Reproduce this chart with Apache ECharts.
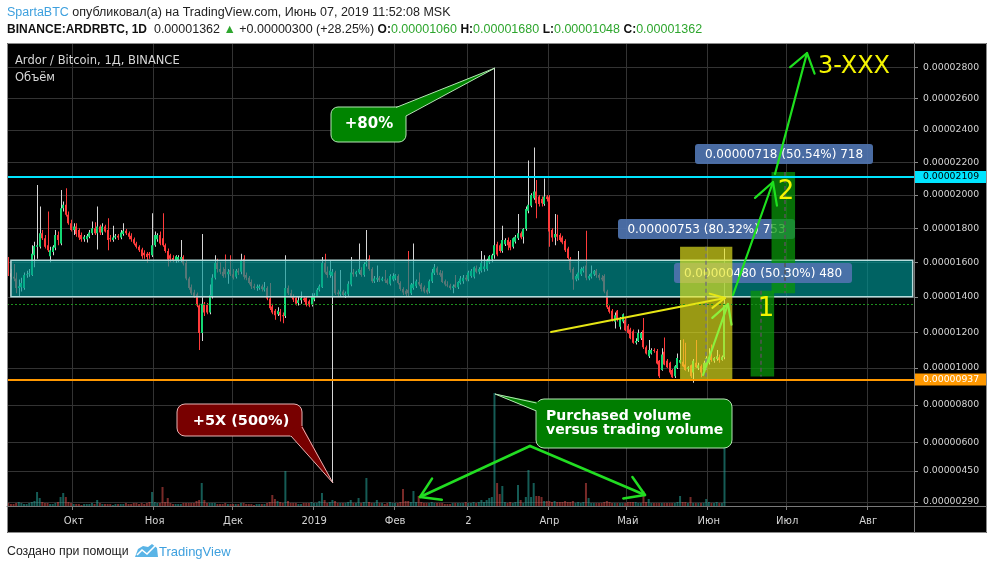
<!DOCTYPE html>
<html><head><meta charset="utf-8">
<script src="https://cdn.jsdelivr.net/npm/echarts@6.0.0/dist/echarts.min.js"></script>
<style>html,body{margin:0;padding:0;background:#fff;}#c{width:994px;height:570px;}</style>
</head><body><div id="c"></div><script>
// ---------- DATA (prices in satoshi: [open, high, low, close]) ----------
const candlesSep2018 = [
[1575,1630,1520,1535],[1535,1560,1500,1515],[1515,1590,1490,1505],[1505,1540,1420,1450],[1450,1500,1400,1460],
[1455,1510,1430,1480],[1450,1540,1440,1525],[1525,1550,1510,1530],[1530,1560,1515,1535],[1525,1700,1520,1650],
[1640,1720,1570,1695],[1690,2060,1620,1700],[1690,1930,1680,1770],[1770,1790,1730,1740],[1740,1760,1680,1690],
[1700,1900,1660,1670],[1635,1690,1600,1670],[1660,1700,1640,1690],[1685,1790,1670,1760],[1760,1780,1700,1730],
[1710,2030,1700,1920],[1920,1960,1900,1940],[1940,2040,1870,1880],[1880,1900,1820,1830],[1830,1850,1780,1790]];
const candlesOct2018 = [
[1790,1830,1760,1810],[1810,1830,1750,1765],[1790,1800,1730,1745],[1760,1775,1720,1735],[1735,1760,1720,1750],
[1735,1765,1715,1755],[1750,1790,1740,1775],[1770,1840,1760,1800],[1800,1835,1760,1770],[1770,1930,1675,1810],
[1810,1820,1760,1775],[1775,1830,1760,1810],[1810,1820,1775,1780],[1790,1860,1670,1730],[1740,1760,1720,1735],
[1730,1815,1720,1745],[1745,1765,1735,1755],[1755,1765,1730,1745],[1745,1790,1735,1775],[1765,1830,1755,1785],
[1785,1795,1760,1770],[1770,1780,1735,1750],[1755,1770,1720,1735],[1735,1745,1700,1710],[1710,1720,1680,1690],
[1690,1700,1660,1670],[1675,1685,1620,1635],[1655,1670,1620,1640],[1650,1660,1595,1630],[1650,1660,1620,1640],
[1640,1890,1630,1700]];
const candlesNov2018 = [
[1700,1780,1690,1760],[1735,1770,1720,1760],[1760,1780,1700,1710],[1740,1890,1690,1700],[1700,1710,1655,1665],
[1665,1680,1575,1615],[1640,1650,1600,1620],[1625,1640,1600,1610],[1610,1640,1595,1635],[1612,1640,1600,1630],
[1615,1730,1600,1630],[1630,1640,1580,1592],[1595,1610,1495,1505],[1505,1515,1440,1450],[1455,1470,1410,1420],
[1425,1440,1395,1405],[1415,1425,1340,1350],[1350,1360,1100,1195],[1195,1765,1150,1360],[1360,1370,1290,1310],
[1355,1365,1300,1310],[1310,1470,1300,1410],[1400,1530,1390,1510],[1510,1640,1500,1595],[1595,1620,1540,1560],
[1560,1600,1530,1545],[1545,1570,1510,1520],[1560,1645,1510,1530],[1530,1560,1475,1545],[1555,1640,1520,1530]];
const candlesDec2018 = [
[1530,1560,1500,1510],[1515,1560,1505,1550],[1550,1565,1525,1540],[1545,1650,1530,1610],[1620,1640,1500,1515],
[1525,1540,1495,1510],[1510,1520,1470,1480],[1485,1500,1445,1460],[1460,1475,1440,1450],[1450,1470,1435,1458],
[1450,1470,1440,1460],[1460,1470,1430,1445],[1440,1485,1430,1455],[1450,1460,1380,1390],[1390,1480,1325,1335],
[1345,1360,1300,1310],[1320,1330,1270,1295],[1300,1340,1290,1320],[1315,1330,1260,1295],[1295,1310,1250,1290],
[1290,1640,1280,1450],[1450,1465,1410,1420],[1420,1440,1395,1405],[1405,1415,1370,1385],[1395,1400,1350,1360],
[1365,1400,1350,1380],[1380,1430,1360,1395],[1390,1405,1370,1380],[1395,1400,1345,1355],[1375,1385,1340,1350],
[1355,1420,1345,1405]];
const candlesJan2019 = [
[1385,1420,1375,1410],[1405,1450,1400,1440],[1440,1470,1430,1460],[1455,1630,1450,1595],[1595,1650,1530,1540],
[1545,1575,1510,1525],[1525,1610,1510,1550],[1520,1560,387,1545],[1540,1550,1410,1420],[1425,1440,1400,1415],
[1415,1555,1405,1430],[1430,1440,1400,1410],[1410,1430,1395,1420],[1415,1490,1405,1475],[1470,1630,1460,1540],
[1540,1560,1515,1530],[1530,1550,1515,1545],[1540,1710,1530,1560],[1555,1570,1515,1525],[1525,1600,1515,1590],
[1590,1790,1575,1600],[1620,1640,1550,1560],[1560,1570,1480,1490],[1490,1520,1480,1505],[1500,1580,1485,1510],
[1510,1520,1485,1495],[1495,1515,1490,1505],[1500,1555,1480,1495],[1495,1505,1470,1480],[1475,1530,1465,1520],
[1500,1535,1490,1520]];
const candlesFeb2019 = [
[1505,1530,1495,1525],[1520,1530,1470,1480],[1480,1490,1435,1445],[1445,1455,1410,1425],[1435,1445,1400,1415],
[1440,1665,1405,1420],[1420,1480,1410,1470],[1450,1710,1440,1475],[1460,1500,1450,1490],[1485,1540,1460,1470],
[1470,1480,1430,1445],[1455,1465,1420,1430],[1440,1450,1415,1425],[1430,1500,1420,1490],[1490,1560,1480,1540],
[1535,1590,1525,1570],[1565,1575,1525,1540],[1540,1555,1515,1525],[1535,1550,1480,1485],[1490,1500,1460,1470],
[1470,1490,1455,1465],[1465,1475,1440,1450],[1450,1470,1420,1460],[1470,1525,1450,1455],[1455,1490,1445,1485],
[1480,1520,1470,1505],[1490,1525,1475,1510],[1510,1525,1490,1500]];
const candlesMar2019 = [
[1500,1550,1490,1540],[1520,1560,1510,1550],[1515,1575,1505,1570],[1565,1580,1535,1545],[1545,1570,1530,1560],
[1550,1665,1540,1595],[1560,1640,1545,1575],[1560,1620,1550,1610],[1600,1640,1590,1635],[1615,1650,1600,1640],
[1640,2795,1620,1700],[1705,1720,1635,1645],[1700,1710,1655,1665],[1665,1815,1655,1730],[1705,1740,1695,1730],
[1730,1745,1670,1700],[1720,1730,1670,1685],[1690,1745,1680,1740],[1720,1760,1710,1750],[1740,1885,1730,1770],
[1770,1780,1735,1745],[1750,1800,1710,1795],[1795,1930,1785,1915],[1905,2210,1890,1940],[1935,2010,1925,2000],
[1980,2290,1970,2020],[2020,2090,1860,1950],[1990,2000,1930,1945],[1975,1990,1930,1950],[1945,2100,1935,1990],
[1990,2000,1960,1975]];
const candlesApr2019 = [
[1985,2000,1690,1780],[1790,1800,1720,1745],[1745,1885,1700,1765],[1765,1880,1725,1750],[1760,1770,1720,1730],
[1745,1755,1705,1715],[1725,1735,1660,1670],[1680,1690,1615,1625],[1620,1630,1540,1555],[1560,1570,1440,1500],
[1500,1530,1490,1520],[1505,1665,1495,1540],[1530,1570,1520,1560],[1550,1575,1540,1565],[1580,1785,1495,1510],
[1505,1530,1495,1520],[1515,1580,1505,1535],[1530,1555,1520,1550],[1550,1560,1510,1525],[1525,1535,1495,1510],
[1510,1525,1490,1500],[1520,1530,1420,1430],[1430,1440,1330,1340],[1340,1350,1305,1315],[1320,1330,1260,1270],
[1258,1310,1220,1295],[1320,1325,1260,1270],[1230,1285,1215,1275],[1260,1305,1250,1300],[1270,1285,1205,1210]];
const candlesMay2019 = [
[1235,1245,1190,1195],[1215,1225,1160,1165],[1205,1215,1135,1140],[1140,1165,1130,1150],[1150,1215,1145,1195],
[1165,1200,1155,1195],[1210,1280,1105,1115],[1115,1125,1075,1080],[1065,1155,1055,1100],[1080,1110,1075,1100],
[1100,1110,1085,1095],[1095,1105,1020,1025],[1040,1045,945,955],[990,1110,985,1075],[1090,1170,1015,1020],
[1040,1050,1000,1005],[1030,1035,965,975],[990,995,945,950],[955,1015,945,1010],[1000,1080,995,1055],
[1030,1155,1025,1045],[1035,1160,1005,1010],[1020,1140,985,990],[995,1010,980,1005],[1015,1020,945,955],
[975,1050,920,1040],[1030,1155,1000,1005],[1000,1030,990,1015],[1010,1020,950,975],[985,1040,975,1030],
[1000,1065,990,1055]];
const candlesJun2019 = [
[1030,1110,1020,1050],[1065,1130,1035,1045],[1040,1060,1030,1055],[1050,1100,1040,1065],[1060,1075,1030,1045],
[1045,1070,1040,1062],[1060,1680,1048,1362]];

// volume (relative units)
const volSep2018 = [3,2,2,3,4,3,2,2,3,4,5,14,8,4,3,3,2,2,3,4,9,13,9,4,3];
const volOct2018 = [2,2,2,1,2,2,2,3,2,6,3,2,2,2,2,1,2,2,2,2,3,2,2,3,3,2,3,2,3,4,14];
const volNov2018 = [4,3,3,19,4,8,3,2,2,2,2,3,3,3,3,3,5,6,23,6,3,3,3,3,2,2,2,3,2,2];
const volDec2018 = [2,2,2,3,3,2,2,2,1,2,2,2,2,3,4,11,7,5,4,3,35,5,3,3,3,2,2,3,3,3,4];
const volJan2019 = [3,3,5,13,6,3,4,6,5,3,3,3,3,4,6,3,3,8,3,4,28,4,3,3,6,3,3,2,3,4,3];
const volFeb2019 = [3,3,4,17,5,5,4,15,4,10,4,3,3,3,4,3,3,3,3,2,2,2,3,3,3,3,3,4];
const volMar2019 = [3,3,4,3,4,6,4,6,8,9,113,23,12,20,4,3,4,3,4,21,6,3,9,36,9,23,10,10,9,5,5];
const volApr2019 = [5,4,5,4,4,4,5,4,4,5,3,4,3,4,23,8,3,3,3,3,3,4,5,4,3,3,3,3,3,3];
const volMay2019 = [4,4,4,4,3,3,15,4,7,3,3,3,3,3,3,3,3,3,3,4,10,4,4,3,9,3,3,3,3,3,7];
const volJun2019 = [4,3,3,4,3,3,75];

// axis tick labels
const priceTicks = [2800,2600,2400,2200,2000,1800,1600,1400,1200,1000,800,600,450,290];
const monthKeys  = ['2018-10','2018-11','2018-12','2019-01','2019-02','2019-03','2019-04','2019-05','2019-06','2019-07','2019-08'];
const monthNames = ['Окт','Ноя','Дек','2019','Фев','2','Апр','Май','Июн','Июл','Авг'];

// horizontal levels & drawn ranges (satoshi)
const resistanceLevel = 2109;
const supportLevel = 937;
const dottedLevel = 1360;
const zoneLow = 1400, zoneHigh = 1612;
const rangeLows  = [937, 954, 1421];
const rangeHighs = [1690, 1434, 2139];
const rangeLabels = ['0.00000753 (80.32%) 753','0.00000480 (50.30%) 480','0.00000718 (50.54%) 718'];

// ---------- BUILD ----------
const candles = [].concat(candlesSep2018,candlesOct2018,candlesNov2018,candlesDec2018,candlesJan2019,
  candlesFeb2019,candlesMar2019,candlesApr2019,candlesMay2019,candlesJun2019);
const volumes = [].concat(volSep2018,volOct2018,volNov2018,volDec2018,volJan2019,volFeb2019,volMar2019,
  volApr2019,volMay2019,volJun2019);

const NDAYS = 347;
const dates = [];
const t0 = Date.UTC(2018, 8, 6);
for (let k = 0; k < NDAYS; k++) dates.push(new Date(t0 + k * 86400000).toISOString().slice(0, 10));

const OFFSET = 9000;                      // price-scale shape of the original chart
const T = v => Math.log(v + OFFSET);
const fmt = s => (s / 1e8).toFixed(8);
const invFmt = v => fmt(Math.round(Math.exp(v) - OFFSET));

const isMonthStart = (idx, val) => typeof val === 'string' && val.slice(8) === '01';
const monthLabel = val => { const k = monthKeys.indexOf(val.slice(0, 7)); return k >= 0 ? monthNames[k] : ''; };

const candleData = candles.map((d, i) => [i, T(d[0]), T(d[3]), T(d[2]), T(d[1])]);
const volData = volumes.map((v, i) => ({
  value: v,
  itemStyle: { color: candles[i][3] >= candles[i][0] ? 'rgba(38,166,154,0.55)' : 'rgba(239,83,80,0.5)' }
}));

function renderCandle(params, api) {
  const i = api.value(0), o = api.value(1), c = api.value(2), l = api.value(3), h = api.value(4);
  const po = api.coord([i, o]), pc = api.coord([i, c]), pl = api.coord([i, l]), ph = api.coord([i, h]);
  const x = Math.round(po[0]);
  const up = c >= o;
  const top = Math.min(po[1], pc[1]);
  const bh = Math.max(1, Math.abs(po[1] - pc[1]));
  return { type: 'group', children: [
    { type: 'rect', shape: { x: x, y: ph[1], width: 1, height: Math.max(1, pl[1] - ph[1]) },
      style: { fill: up ? '#d6d6d6' : '#ff3b3b' } },
    { type: 'rect', shape: { x: x - 1, y: top, width: 2, height: bh },
      style: { fill: up ? '#14d873' : '#ff3b3b' } }
  ]};
}

const last = candles[candles.length - 1];
const prevClose = candles[candles.length - 2][3];
const chg = last[3] - prevClose;
const pct = (chg / prevClose * 100).toFixed(2);

const AX_FONT = 'DejaVu Sans';
const lvlLabel = (bg, fg) => ({ show: true, position: 'end', distance: 1, formatter: p => invFmt(p.value),
  backgroundColor: bg, color: fg, fontFamily: AX_FONT, fontSize: 9.3, padding: [2, 7, 1, 8] });

// arrow helper (annotation drawing)
function arrow(x1, y1, x2, y2, color, width, len, angDeg) {
  const dx = x1 - x2, dy = y1 - y2, L = Math.hypot(dx, dy);
  const bx = dx / L, by = dy / L, a = angDeg * Math.PI / 180;
  const r1 = [x2 + len * (bx * Math.cos(a) - by * Math.sin(a)), y2 + len * (bx * Math.sin(a) + by * Math.cos(a))];
  const r2 = [x2 + len * (bx * Math.cos(a) + by * Math.sin(a)), y2 + len * (-bx * Math.sin(a) + by * Math.cos(a))];
  const st = { stroke: color, lineWidth: width, fill: null, lineCap: 'round', lineJoin: 'round' };
  return [
    { type: 'polyline', z: 60, silent: true, shape: { points: [[x1, y1], [x2, y2]] }, style: st },
    { type: 'polyline', z: 60, silent: true, shape: { points: [r1, [x2, y2], r2] }, style: st }
  ];
}
function txt(x, y, text, font, fill, align, z) {
  return { type: 'text', z: z || 60, silent: true, x: x, y: y,
    style: { text: text, font: font, fill: fill, textAlign: align || 'left', textVerticalAlign: 'middle' } };
}
function labelBox(x, y, w, h, text, z) {
  return [
    { type: 'rect', z: z, silent: true, shape: { x: x, y: y, width: w, height: h, r: 3 }, style: { fill: 'rgba(78,114,172,0.94)' } },
    txt(x + w / 2, y + h / 2 + 0.5, text, '12px "DejaVu Sans"', '#ffffff', 'center', z)
  ];
}

const graphics = [
  { type: 'rect', z: -10, silent: true, shape: { x: 7, y: 43, width: 980, height: 490 }, style: { fill: '#000000' } },
  { type: 'rect', z: 100, silent: true, shape: { x: 7.5, y: 43.5, width: 979, height: 489 }, style: { fill: null, stroke: '#8a8a8a', lineWidth: 1 } },
  { type: 'line', z: 100, silent: true, shape: { x1: 914.5, y1: 43, x2: 914.5, y2: 533 }, style: { stroke: '#7a7a7a', lineWidth: 1 } },
  { type: 'line', z: 100, silent: true, shape: { x1: 7, y1: 506.5, x2: 987, y2: 506.5 }, style: { stroke: '#7a7a7a', lineWidth: 1 } },
  // header
  { type: 'text', z: 60, silent: true, x: 7, y: 13, style: {
      text: '{u|SpartaBTC} опубликовал(а) на TradingView.com, Июнь 07, 2019 11:52:08 MSK',
      font: '12.5px "Liberation Sans"', fill: '#222', textVerticalAlign: 'middle',
      rich: { u: { fill: '#3ea0de', font: '12.5px "Liberation Sans"' } } } },
  { type: 'text', z: 60, silent: true, x: 7, y: 30, style: {
      text: '{b|BINANCE:ARDRBTC, 1D}  ' + fmt(last[3]) + ' {g|▲} +' + fmt(chg) + ' (+' + pct + '%) {b|O:}{g|' + fmt(last[0]) +
            '} {b|H:}{g|' + fmt(last[1]) + '} {b|L:}{g|' + fmt(last[2]) + '} {b|C:}{g|' + fmt(last[3]) + '}',
      font: '12.5px "Liberation Sans"', fill: '#222', textVerticalAlign: 'middle',
      rich: { b: { fontWeight: 'bold', fill: '#111', font: 'bold 12.5px "Liberation Sans"' },
              g: { fill: '#2ea62e', font: '12.5px "Liberation Sans"' } } } },
  // footer
  txt(7, 552, 'Создано при помощи', '12.3px "Liberation Sans"', '#222', 'left', 60),
  { type: 'polygon', z: 60, silent: true, shape: { points: [[135,557],[138,549],[143,546],[148,547],[152,544],[157,548],[158,557]] }, style: { fill: '#5ab4e6' } },
  { type: 'polyline', z: 61, silent: true, shape: { points: [[137,555],[142,550],[147,554],[155,546]] }, style: { stroke: '#fff', lineWidth: 1.6, fill: null } },
  txt(159, 552, 'TradingView', '13px "Liberation Sans"', '#3ea0de', 'left', 60),
  // chart title
  txt(15, 61, 'Ardor / Bitcoin, 1Д, BINANCE', '11.5px "DejaVu Sans"', '#d8d8d8', 'left', 60),
  txt(15, 78, 'Объём', '11.5px "DejaVu Sans"', '#d8d8d8', 'left', 60),
  // range labels (layered between the drawn boxes)
  ...labelBox(618, 219, 177, 20, rangeLabels[0], 5),
  ...labelBox(674, 263, 178, 20, rangeLabels[1], 7),
  ...labelBox(695, 144, 178, 20, rangeLabels[2], 9),
  // numbers
  txt(766, 309, '1', '26px "DejaVu Sans"', '#f4f400', 'center', 60),
  txt(786, 192, '2', '26px "DejaVu Sans"', '#f4f400', 'center', 60),
  txt(818, 67, '3-XXX', '24px "DejaVu Sans"', '#f4f400', 'left', 60),
  // arrows
  ...arrow(551, 332, 725, 298, '#e6e614', 2, 16, 27),
  ...arrow(703, 375, 728, 304, '#8cf03c', 2.2, 21, 29),
  ...arrow(733, 295, 773, 182, '#1ee01e', 2.2, 24, 29),
  ...arrow(775, 174, 807, 53, '#1ee01e', 2.2, 22, 35),
  ...arrow(530, 446, 420, 497, '#22dd22', 2.5, 22, 32),
  ...arrow(530, 446, 645, 495, '#22dd22', 2.5, 22, 32),
  // callout +80%
  { type: 'rect', z: 55, silent: true, shape: { x: 331, y: 107, width: 75, height: 35, r: 7 }, style: { fill: '#008400', stroke: '#b4e8b4', lineWidth: 1 } },
  { type: 'polygon', z: 56, silent: true, shape: { points: [[395,108],[495,68],[405.5,116],[398,117],[394,112]] }, style: { fill: '#008400' } },
  { type: 'polyline', z: 57, silent: true, shape: { points: [[396,107.5],[495,68],[406,116]] }, style: { stroke: '#b4e8b4', lineWidth: 1, fill: null } },
  txt(369, 124, '+80%', 'bold 15px "DejaVu Sans"', '#ffffff', 'center', 58),
  // callout +5X
  { type: 'rect', z: 55, silent: true, shape: { x: 177, y: 404, width: 125, height: 32, r: 8 }, style: { fill: '#780000', stroke: '#e6b4b4', lineWidth: 1 } },
  { type: 'polygon', z: 56, silent: true, shape: { points: [[290,435],[333,483],[302.5,426],[297,426],[290,430]] }, style: { fill: '#780000' } },
  { type: 'polyline', z: 57, silent: true, shape: { points: [[291,436],[333,483],[302,427]] }, style: { stroke: '#e6b4b4', lineWidth: 1, fill: null } },
  txt(241, 421, '+5X (500%)', 'bold 14.5px "DejaVu Sans"', '#ffffff', 'center', 58),
  // callout purchased volume
  { type: 'rect', z: 55, silent: true, shape: { x: 536, y: 399, width: 196, height: 49, r: 8 }, style: { fill: '#007d00', stroke: '#b4e4b4', lineWidth: 1 } },
  { type: 'polygon', z: 56, silent: true, shape: { points: [[538,402],[495,394],[538,412],[542,412],[542,402]] }, style: { fill: '#007d00' } },
  { type: 'polyline', z: 57, silent: true, shape: { points: [[536.5,403],[495,394],[536.5,411]] }, style: { stroke: '#b4e4b4', lineWidth: 1, fill: null } },
  txt(546, 416, 'Purchased volume', 'bold 14px "DejaVu Sans"', '#ffffff', 'left', 58),
  txt(546, 430, 'versus trading volume', 'bold 14px "DejaVu Sans"', '#ffffff', 'left', 58)
];

function areaSeries(name, z, items) {
  return { name: name, type: 'line', data: [], z: z, silent: true,
    markArea: { silent: true, z: z, label: { show: false }, data: items } };
}

const option = {
  backgroundColor: '#ffffff',
  animation: false,
  grid: [
    { left: 7, right: 80, top: 43, bottom: 64 },
    { left: 7, right: 80, top: 380, bottom: 64 }
  ],
  xAxis: [
    { type: 'category', data: dates, gridIndex: 0, boundaryGap: true,
      axisLine: { show: true, lineStyle: { color: '#7a7a7a' } },
      axisTick: { show: true, length: 4, interval: isMonthStart, lineStyle: { color: '#7a7a7a' } },
      axisLabel: { interval: isMonthStart, formatter: monthLabel, color: '#d4d4d4', fontSize: 10, fontFamily: AX_FONT, margin: 10 },
      splitLine: { show: true, interval: isMonthStart, lineStyle: { color: '#333333', width: 1 } } },
    { type: 'category', data: dates, gridIndex: 1, boundaryGap: true, show: false }
  ],
  yAxis: [
    { type: 'value', gridIndex: 0, position: 'right', min: T(269), max: T(2959), scale: true,
      axisLine: { show: true, lineStyle: { color: '#7a7a7a' } },
      axisTick: { show: true, length: 4, inside: false, customValues: priceTicks.map(T), lineStyle: { color: '#8a8a8a' } },
      axisLabel: { customValues: priceTicks.map(T), formatter: v => invFmt(v), color: '#d4d4d4', fontSize: 9.3, fontFamily: AX_FONT, margin: 9 },
      splitLine: { show: false } },
    { type: 'value', gridIndex: 1, min: 0, max: 126, show: false, splitLine: { show: false } }
  ],
  graphic: { elements: graphics },
  series: [
    { name: 'grid', type: 'line', data: [], z: 1, silent: true,
      markLine: { silent: true, z: 1, precision: 12, symbol: ['none', 'none'], label: { show: false },
        lineStyle: { color: '#333333', width: 1, type: 'solid' },
        data: priceTicks.map(v => ({ yAxis: T(v) })) } },
    { name: 'Объём', type: 'bar', xAxisIndex: 1, yAxisIndex: 1, data: volData, barWidth: 2, z: 3, silent: true },
    { name: 'ARDRBTC', type: 'custom', renderItem: renderCandle, data: candleData, z: 2, silent: true,
      encode: { x: 0, y: [1, 2, 3, 4] }, clip: true },
    areaSeries('zone', 4, [
      [{ xAxis: 1, yAxis: T(zoneHigh), itemStyle: { color: 'rgba(0,150,150,0.66)', borderColor: '#b6dcdc', borderWidth: 1.5 } },
       { xAxis: NDAYS - 1, yAxis: T(zoneLow) }]]),
    areaSeries('range2', 6, [
      [{ xAxis: 292, yAxis: T(rangeHighs[2]), itemStyle: { color: 'rgba(10,150,10,0.74)' } },
       { xAxis: 301, yAxis: T(rangeLows[2]) }]]),
    areaSeries('range1', 8, [
      [{ xAxis: 257, yAxis: T(rangeHighs[0]), itemStyle: { color: 'rgba(232,232,30,0.66)' } },
       { xAxis: 277, yAxis: T(rangeLows[0]) }],
      [{ xAxis: 284, yAxis: T(rangeHighs[1]), itemStyle: { color: 'rgba(10,150,10,0.74)' } },
       { xAxis: 293, yAxis: T(rangeLows[1]) }]]),
    { name: 'levels', type: 'line', data: [], z: 10, silent: true,
      markLine: { silent: true, z: 10, precision: 12, symbol: ['none', 'none'],
        data: [
          { yAxis: T(resistanceLevel), lineStyle: { color: '#00e5ff', width: 2, type: 'solid' }, label: lvlLabel('#00e5ff', '#000') },
          { yAxis: T(supportLevel), lineStyle: { color: '#ff9800', width: 2, type: 'solid' }, label: lvlLabel('#ff9800', '#fff') },
          { yAxis: T(dottedLevel), lineStyle: { color: '#1d8f1d', width: 1, type: [2, 2] }, label: { show: false } },
          [{ xAxis: 267, yAxis: T(rangeHighs[0]), lineStyle: { color: '#777', width: 1.5, type: [4, 3] }, label: { show: false } }, { xAxis: 267, yAxis: T(rangeLows[0]) }],
          [{ xAxis: 288, yAxis: T(rangeHighs[1]), lineStyle: { color: '#555', width: 1.5, type: [4, 3] }, label: { show: false } }, { xAxis: 288, yAxis: T(rangeLows[1]) }],
          [{ xAxis: 297, yAxis: T(rangeHighs[2]), lineStyle: { color: '#555', width: 1.5, type: [4, 3] }, label: { show: false } }, { xAxis: 297, yAxis: T(rangeLows[2]) }]
        ] } }
  ]
};

const chart = echarts.init(document.getElementById('c'), null, { renderer: 'canvas' });
chart.setOption(option);
</script></body></html>
